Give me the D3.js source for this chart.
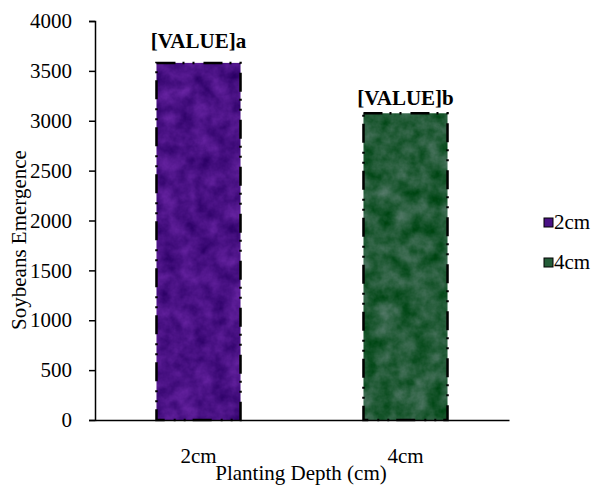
<!DOCTYPE html>
<html>
<head>
<meta charset="utf-8">
<script src="https://cdn.jsdelivr.net/npm/d3@7"></script>
<style>
  body { margin: 0; background: #fff; }
</style>
</head>
<body>
<div id="chart"></div>
<script>
// data
var depths = ["2cm", "4cm"];
var emergence = [3580, 3075];
var barLabels = ["[VALUE]a", "[VALUE]b"];
var yTicks = [0, 500, 1000, 1500, 2000, 2500, 3000, 3500, 4000];

// base colours for the textured fills (0-1 rgb) and how strong the mottling is
var baseColors = [[0.29, 0.07, 0.52], [0.14, 0.36, 0.22]];
var textureAmount = [0.3, 0.45];

var FONT = "'Liberation Serif', 'Times New Roman', serif";
var width = 599, height = 485;
var margin = {top: 21, left: 95};
var plotW = 414, plotH = 399;

var svg = d3.select("#chart")
  .append("svg")
  .attr("width", width)
  .attr("height", height);

function rgbOf(c) {
  return d3.rgb(c[0] * 255, c[1] * 255, c[2] * 255).toString();
}

// marble-ish texture filters
var defs = svg.append("defs");
baseColors.forEach(function(c, i) {
  var k = textureAmount[i];
  var f = defs.append("filter")
    .attr("id", "tex-" + i)
    .attr("x", 0).attr("y", 0)
    .attr("width", 1).attr("height", 1)
    .attr("color-interpolation-filters", "sRGB");
  f.append("feTurbulence")
    .attr("type", "fractalNoise")
    .attr("baseFrequency", 0.06)
    .attr("numOctaves", 4)
    .attr("seed", 5 + i * 7)
    .attr("result", "noise");
  f.append("feColorMatrix")
    .attr("in", "noise")
    .attr("type", "matrix")
    .attr("values", [
      k, 0, 0, 0, c[0] - k / 2,
      k * 0.6, 0, 0, 0, c[1] - k * 0.3,
      k, 0, 0, 0, c[2] - k / 2,
      0, 0, 0, 0, 1].join(" "))
    .attr("result", "col");
  f.append("feComposite")
    .attr("in", "col")
    .attr("in2", "SourceGraphic")
    .attr("operator", "in");
});

var g = svg.append("g")
  .attr("transform", "translate(" + margin.left + "," + margin.top + ")");

var x = d3.scaleBand()
  .domain(depths)
  .range([0, plotW])
  .paddingInner(0.594)
  .paddingOuter(0.297);

var y = d3.scaleLinear()
  .domain([0, 4000])
  .range([plotH, 0]);

// bars
g.selectAll(".bar")
  .data(emergence)
  .enter()
  .append("rect")
  .attr("class", "bar")
  .attr("x", function(d, i) { return x(depths[i]); })
  .attr("y", function(d) { return y(d); })
  .attr("width", x.bandwidth())
  .attr("height", function(d) { return plotH - y(d); })
  .attr("fill", function(d, i) { return rgbOf(baseColors[i]); })
  .attr("filter", function(d, i) { return "url(#tex-" + i + ")"; });

// long dash - dot - dot border
g.selectAll(".bar-border")
  .data(emergence)
  .enter()
  .append("rect")
  .attr("class", "bar-border")
  .attr("x", function(d, i) { return x(depths[i]); })
  .attr("y", function(d) { return y(d); })
  .attr("width", x.bandwidth())
  .attr("height", function(d) { return plotH - y(d); })
  .attr("fill", "none")
  .attr("stroke", "#000")
  .attr("stroke-width", 2.5)
  .attr("stroke-dasharray", "19,7,2,8,2,9");

// value labels
var labelOffset = [15, 8];
g.selectAll(".vlabel")
  .data(emergence)
  .enter()
  .append("text")
  .attr("class", "vlabel")
  .attr("x", function(d, i) { return x(depths[i]) + x.bandwidth() / 2; })
  .attr("y", function(d, i) { return y(d) - labelOffset[i]; })
  .attr("text-anchor", "middle")
  .style("font-family", FONT)
  .style("font-size", "21px")
  .style("font-weight", "bold")
  .text(function(d, i) { return barLabels[i]; });

// y axis
var yAxis = g.append("g")
  .call(d3.axisLeft(y).tickValues(yTicks).tickFormat(d3.format("d")).tickSize(6).tickPadding(17));
yAxis.select(".domain").attr("stroke", "#000").attr("stroke-width", 1.5);
yAxis.selectAll(".tick line").attr("stroke", "#000").attr("stroke-width", 1.5);
yAxis.selectAll("text")
  .style("font-family", FONT)
  .style("font-size", "21px")
  .attr("fill", "#000");

// x axis
var xAxis = g.append("g")
  .attr("transform", "translate(0," + plotH + ")")
  .call(d3.axisBottom(x).tickSize(0).tickPadding(28).tickSizeOuter(0));
xAxis.select(".domain").attr("stroke", "#000").attr("stroke-width", 1.5);
xAxis.selectAll("text")
  .style("font-family", FONT)
  .style("font-size", "21px")
  .attr("fill", "#000");

// axis titles
g.append("text")
  .attr("x", plotW / 2 - 1)
  .attr("y", plotH + 60)
  .attr("text-anchor", "middle")
  .style("font-family", FONT)
  .style("font-size", "21px")
  .text("Planting Depth (cm)");

svg.append("text")
  .attr("transform", "translate(26,240) rotate(-90)")
  .attr("text-anchor", "middle")
  .style("font-family", FONT)
  .style("font-size", "21px")
  .text("Soybeans Emergence");

// legend
var legend = svg.append("g")
  .attr("transform", "translate(544,218)");
var items = legend.selectAll(".item")
  .data(depths)
  .enter()
  .append("g")
  .attr("class", "item")
  .attr("transform", function(d, i) { return "translate(0," + i * 40 + ")"; });
items.append("rect")
  .attr("width", 9)
  .attr("height", 9)
  .attr("fill", function(d, i) { return rgbOf(baseColors[i]); })
  .attr("stroke", "#000")
  .attr("stroke-width", 1);
items.append("text")
  .attr("x", 10)
  .attr("y", 11)
  .style("font-family", FONT)
  .style("font-size", "21px")
  .text(function(d) { return d; });
</script>
</body>
</html>
